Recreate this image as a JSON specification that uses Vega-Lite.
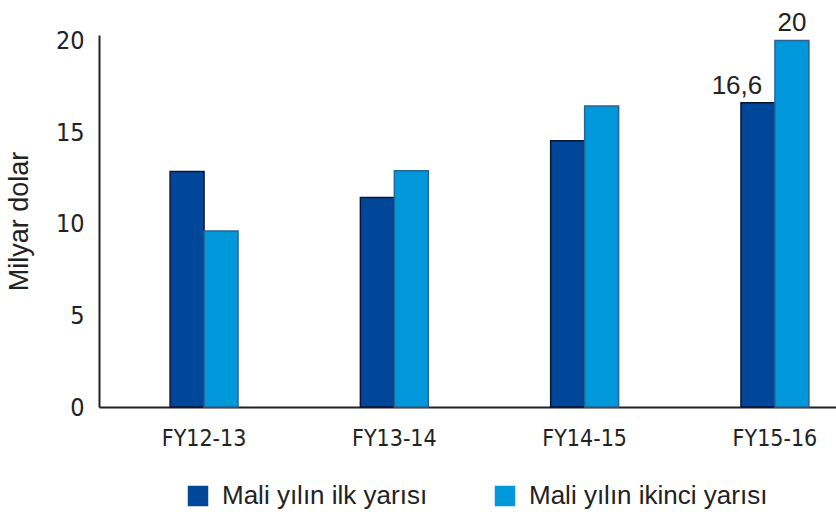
{
  "$schema": "https://vega.github.io/schema/vega-lite/v6.json",
  "width": 737,
  "height": 372,
  "autosize": {"type": "none"},
  "padding": {"left": 99, "top": 35, "right": 0, "bottom": 108},
  "background": "white",
  "config": {"view": {"stroke": null}},
  "data": {
    "values": [
      {"year": "FY12-13", "series": "Mali yılın ilk yarısı", "value": 12.85, "label": null},
      {"year": "FY12-13", "series": "Mali yılın ikinci yarısı", "value": 9.6, "label": null},
      {"year": "FY13-14", "series": "Mali yılın ilk yarısı", "value": 11.43, "label": null},
      {"year": "FY13-14", "series": "Mali yılın ikinci yarısı", "value": 12.89, "label": null},
      {"year": "FY14-15", "series": "Mali yılın ilk yarısı", "value": 14.53, "label": null},
      {"year": "FY14-15", "series": "Mali yılın ikinci yarısı", "value": 16.42, "label": null},
      {"year": "FY15-16", "series": "Mali yılın ilk yarısı", "value": 16.6, "label": "16,6"},
      {"year": "FY15-16", "series": "Mali yılın ikinci yarısı", "value": 20, "label": "20"}
    ]
  },
  "encoding": {
    "x": {
      "field": "year",
      "type": "nominal",
      "sort": null,
      "scale": {"paddingInner": 0.643, "paddingOuter": 0.258, "align": 0.724},
      "axis": {
        "title": null,
        "labelAngle": 0,
        "ticks": false,
        "labelPadding": 20,
        "labelFont": "DejaVu Sans Condensed, Roboto Condensed, Roboto, sans-serif",
        "labelFontSize": 23,
        "labelColor": "#222222",
        "domainColor": "#222222",
        "domainWidth": 2
      }
    },
    "xOffset": {
      "field": "series",
      "type": "nominal",
      "sort": ["Mali yılın ilk yarısı", "Mali yılın ikinci yarısı"],
      "scale": {"paddingInner": 0, "paddingOuter": 0}
    },
    "y": {
      "field": "value",
      "type": "quantitative",
      "scale": {"domain": [0, 20.3], "nice": false},
      "axis": {
        "title": "Milyar dolar",
        "values": [0, 5, 10, 15, 20],
        "grid": false,
        "ticks": false,
        "labelPadding": 15,
        "labelFont": "DejaVu Sans Condensed, Roboto Condensed, Roboto, sans-serif",
        "labelFontSize": 25,
        "labelColor": "#222222",
        "domainColor": "#222222",
        "domainWidth": 2,
        "titleFont": "Liberation Sans",
        "titleFontSize": 27,
        "titleFontWeight": "normal",
        "titleColor": "#222222",
        "titlePadding": 22
      }
    }
  },
  "layer": [
    {
      "mark": {"type": "bar", "strokeWidth": 1.5},
      "encoding": {
        "color": {
          "field": "series",
          "type": "nominal",
          "sort": ["Mali yılın ilk yarısı", "Mali yılın ikinci yarısı"],
          "scale": {"range": ["#00479A", "#0098DA"]},
          "legend": {
            "title": null,
            "orient": "none",
            "direction": "horizontal",
            "legendX": 86,
            "legendY": 448,
            "symbolType": "square",
            "symbolSize": 420,
            "symbolStrokeWidth": 1.5,
            "labelFont": "Liberation Sans",
            "labelFontSize": 26,
            "labelColor": "#222222",
            "labelOffset": 11,
            "columnPadding": 64,
            "labelLimit": 400
          }
        },
        "stroke": {
          "field": "series",
          "type": "nominal",
          "sort": ["Mali yılın ilk yarısı", "Mali yılın ikinci yarısı"],
          "scale": {"range": ["#0A1638", "#2A6494"]},
          "legend": null
        }
      }
    },
    {
      "transform": [{"filter": "datum.label != null"}],
      "mark": {
        "type": "text",
        "font": "Liberation Sans",
        "fontSize": 26,
        "color": "#222222",
        "baseline": "alphabetic",
        "dy": -9,
        "dx": {"expr": "datum.series == 'Mali yılın ilk yarısı' ? -21 : 0"}
      },
      "encoding": {
        "text": {"field": "label", "type": "nominal"}
      }
    }
  ]
}
